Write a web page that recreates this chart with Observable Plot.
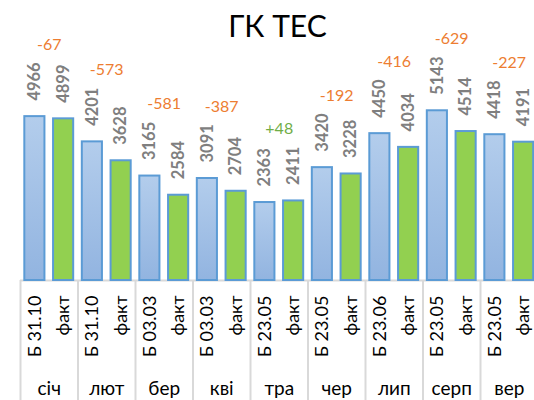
<!DOCTYPE html>
<html>
<head>
<meta charset="utf-8">
<script src="https://cdn.jsdelivr.net/npm/d3@7"></script>
<script src="https://cdn.jsdelivr.net/npm/@observablehq/plot@0.6"></script>
<style>
  html, body { margin: 0; padding: 0; background: #fff; }
  #chart { width: 534px; height: 400px; overflow: hidden; position: relative; }
  #chart svg { overflow: visible; max-width: none; }
</style>
</head>
<body>
<div id="chart"></div>
<script>
const title = "ГК ТЕС";
const months = ["січ", "лют", "бер", "кві", "тра", "чер", "лип", "серп", "вер"];
const planLabels = ["Б 31.10", "Б 31.10", "Б 03.03", "Б 03.03", "Б 23.05", "Б 23.05", "Б 23.06", "Б 23.05", "Б 23.05"];
const factLabel = "факт";
const planValues = [4966, 4201, 3165, 3091, 2363, 3420, 4450, 5143, 4418];
const factValues = [4899, 3628, 2584, 2704, 2411, 3228, 4034, 4514, 4191];

const rows = [];
months.forEach((m, i) => {
  rows.push({key: m + "|plan", month: m, kind: "plan", label: planLabels[i], value: planValues[i]});
  rows.push({key: m + "|fact", month: m, kind: "fact", label: factLabel, value: factValues[i]});
});
const diffs = months.map((m, i) => ({
  key: m + "|plan", month: m,
  top: Math.max(planValues[i], factValues[i]),
  diff: factValues[i] - planValues[i]
}));
const monthRows = months.map(m => ({key: m + "|plan", month: m}));

const font = "Lato, 'Open Sans', sans-serif";
const halfStep = 517.5 / 18 / 2;

const plot = Plot.plot({
  width: 534,
  height: 400,
  marginTop: 16,
  marginBottom: 120,
  marginLeft: 20,
  marginRight: 0,
  style: {fontFamily: font, background: "transparent"},
  x: {domain: rows.map(d => d.key), range: [20, 537.5], paddingInner: 0.3, paddingOuter: 0.15, round: false, axis: null},
  y: {domain: [0, 8000], axis: null},
  marks: [
    Plot.ruleX(monthRows, {x: "key", dx: -halfStep, y1: 0, y2: 0, insetBottom: -120, stroke: "#d9d9d9", strokeWidth: 2}),
    Plot.ruleY([0], {stroke: "#d9d9d9", strokeWidth: 2}),
    Plot.barY(rows, {
      x: "key", y: "value",
      fill: d => d.kind === "plan" ? "url(#planGrad)" : "#92d050",
      stroke: "#5b9bd5", strokeWidth: 2
    }),
    Plot.text(rows, {
      x: "key", y: "value", text: d => String(d.value),
      rotate: -90, textAnchor: "start", dy: -16,
      fill: "#7f7f7f", fontWeight: "bold", fontSize: 16.5
    }),
    Plot.text(diffs, {
      x: "key", y: "top", dx: halfStep, dy: -72,
      text: d => (d.diff > 0 ? "+" : "") + d.diff,
      fill: d => d.diff > 0 ? "#70ad47" : "#ed7d31", fontSize: 16
    }),
    Plot.text(rows, {
      x: "key", y: 0, text: "label",
      rotate: -90, textAnchor: "end", dy: 15,
      fill: "#000", fontSize: 18
    }),
    Plot.text(monthRows, {
      x: "key", y: 0, dx: halfStep, dy: 108, text: "month",
      fill: "#000", fontSize: 19
    }),
    Plot.text([title], {
      frameAnchor: "top", text: d => d, lineAnchor: "middle", dy: 11,
      fill: "#000", fontSize: 30
    })
  ]
});

const defs = d3.select(plot).insert("defs", ":first-child");
const g = defs.append("linearGradient").attr("id", "planGrad")
  .attr("x1", 0).attr("y1", 0).attr("x2", 0).attr("y2", 1);
g.append("stop").attr("offset", "0%").attr("stop-color", "#b3cdec");
g.append("stop").attr("offset", "100%").attr("stop-color", "#92b4e0");

document.getElementById("chart").appendChild(plot);
</script>
</body>
</html>
